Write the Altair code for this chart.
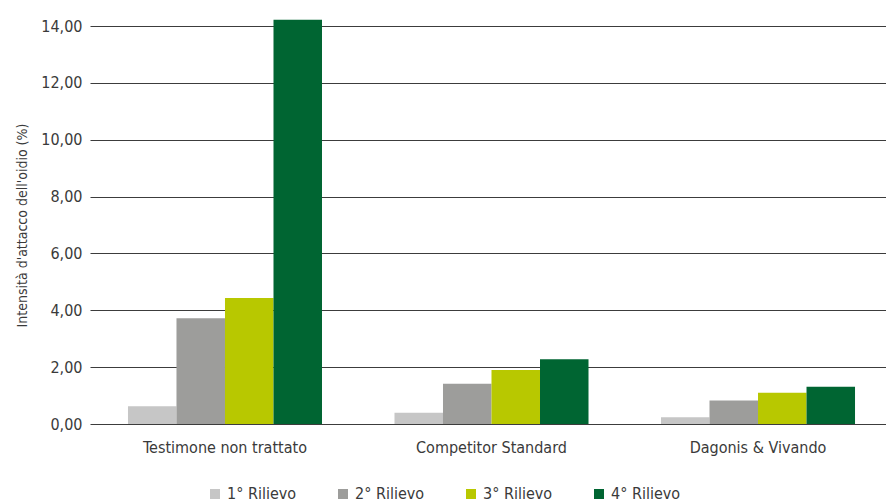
import altair as alt
import pandas as pd

categories = ["Testimone non trattato", "Competitor Standard", "Dagonis & Vivando"]
series = ["1° Rilievo", "2° Rilievo", "3° Rilievo", "4° Rilievo"]
values_1 = [0.62, 0.40, 0.24]
values_2 = [3.72, 1.42, 0.83]
values_3 = [4.43, 1.90, 1.10]
values_4 = [14.22, 2.28, 1.31]
colors = ["#c6c6c6", "#9d9d9b", "#b8c800", "#006532"]

rows = []
for s, vals in zip(series, [values_1, values_2, values_3, values_4]):
    for c, v in zip(categories, vals):
        rows.append({"Categoria": c, "Rilievo": s, "Valore": v})
df = pd.DataFrame(rows)

FONT = "DejaVu Sans Condensed"
TXT = "#3a3a3a"

chart = alt.Chart(df).mark_bar().encode(
    x=alt.X("Categoria:N", sort=categories,
            scale=alt.Scale(paddingInner=0.272, paddingOuter=0.1425, range=[0, 803]),
            axis=alt.Axis(title=None, labelAngle=0, ticks=False, domain=False,
                          labelPadding=15, labelFontSize=16, labelFont=FONT,
                          labelColor=TXT, grid=False)),
    xOffset=alt.XOffset("Rilievo:N", sort=series),
    y=alt.Y("Valore:Q", scale=alt.Scale(domain=[0, 14]),
            axis=alt.Axis(title="Intensità d'attacco dell'oidio (%)", values=[0, 2, 4, 6, 8, 10, 12, 14],
                          labelExpr="replace(format(datum.value, '.2f'), '.', ',')",
                          ticks=False, domain=False, labelPadding=8,
                          labelFontSize=16, labelFont=FONT, labelColor=TXT,
                          titleFontSize=14, titleFont=FONT, titleColor=TXT, titleFontWeight="normal",
                          titleX=-68, titleY=199, titleAngle=-90, titleAlign="center",
                          titleBaseline="middle",
                          gridColor="#3c3c3c", gridWidth=1.2)),
    color=alt.Color("Rilievo:N", sort=series,
                    scale=alt.Scale(domain=series, range=colors),
                    legend=alt.Legend(title=None, orient="none", direction="horizontal",
                                      legendX=117, legendY=460, symbolType="square",
                                      symbolSize=100, symbolStrokeWidth=0,
                                      labelFontSize=16, labelFont=FONT, labelColor=TXT,
                                      labelOffset=4, columnPadding=38)),
).properties(
    width=796, height=398,
    padding={"left": 90, "top": 26, "right": 0, "bottom": 80},
    autosize=alt.AutoSizeParams(type="none"),
).configure_view(stroke=None)

chart.save("out.html", embed_options={"renderer": "svg", "actions": False})
